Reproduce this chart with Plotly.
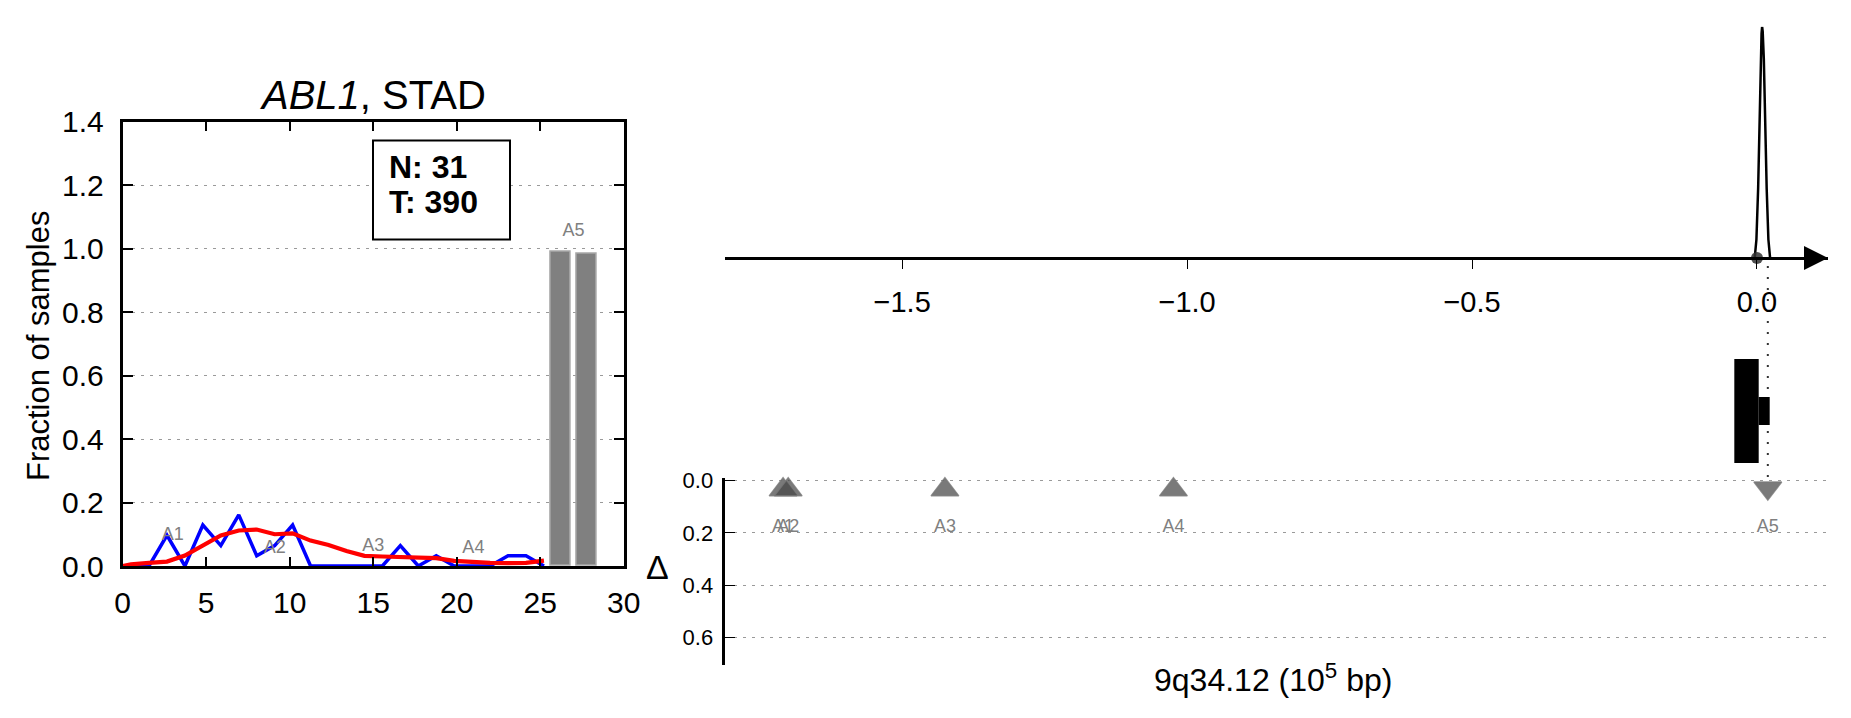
import plotly.graph_objects as go

W, H = 1851, 718
FONT = "Liberation Sans, Arial, Helvetica, sans-serif"

# ---------------- data: left panel ----------------
bin_x = [0.5, 1.575, 2.65, 3.725, 4.8, 5.875, 6.95, 8.025, 9.1, 10.175, 11.25, 12.325,
         13.4, 14.475, 15.55, 16.625, 17.7, 18.775, 19.85, 20.925, 22.0, 23.075, 24.15, 25.225]
normal_frac = [0.0, 0.0, 0.0968, 0.0, 0.129, 0.0645, 0.161, 0.0323, 0.0645, 0.129, 0.0, 0.0,
               0.0, 0.0, 0.0, 0.0645, 0.0, 0.0323, 0.0, 0.0, 0.0, 0.0323, 0.0323, 0.0]
tumor_x = [0.0, 0.5, 1.575, 2.65, 3.725, 4.8, 5.875, 6.95, 8.025, 9.1, 10.175, 11.25, 12.325,
           13.4, 14.475, 15.55, 16.625, 17.7, 18.775, 19.85, 20.925, 22.0, 23.075, 24.15, 25.225]
tumor_frac = [0.0, 0.005, 0.010, 0.014, 0.033, 0.066, 0.096, 0.112, 0.115, 0.100, 0.103, 0.080,
              0.066, 0.047, 0.032, 0.030, 0.028, 0.024, 0.025, 0.016, 0.012, 0.010, 0.009, 0.010, 0.017]
bar_x = [26.25, 27.77]
bar_vals = [0.99, 0.984]
left_labels = ["A1", "A2", "A3", "A4", "A5"]
left_label_x = [3.0, 9.1, 15.0, 21.0, 27.0]
left_label_y = [0.097, 0.055, 0.060, 0.055, 1.053]
box_lines = ["N: 31", "T: 390"]

# ---------------- data: right panels ----------------
peak_x = [-0.004, -0.001, 0.002, 0.004, 0.006, 0.008, 0.009, 0.010, 0.012, 0.014, 0.017, 0.020, 0.023]
peak_y = [0.0, 0.08, 0.30, 0.55, 0.80, 0.97, 1.0, 0.98, 0.86, 0.62, 0.30, 0.08, 0.0]
site_labels = ["A1", "A2", "A3", "A4", "A5"]
site_x = [-1.709, -1.700, -1.425, -1.024, 0.019]
site_delta = [0.035, 0.035, 0.035, 0.035, 0.028]
site_symbol = ["triangle-up", "triangle-up", "triangle-up", "triangle-up", "triangle-down"]
site_label_y = [0.18, 0.18, 0.18, 0.18, 0.18]
gene_cds = [-0.0398, 0.0030]
gene_utr = [0.0030, 0.0223]
upper_ticks = [-1.5, -1.0, -0.5, 0.0]
delta_ticks = [0.0, 0.2, 0.4, 0.6]
x_range = [-1.8116, 0.1246]


def px(p):
    return p / W


def py(p):
    return 1 - p / H


fig = go.Figure()

fig.add_trace(go.Bar(x=bar_x, y=bar_vals, width=1.2, xaxis="x", yaxis="y",
                     marker=dict(color="#808080", line=dict(color="#a8a8a8", width=1.5))))
fig.add_trace(go.Scatter(x=bin_x, y=normal_frac, mode="lines", xaxis="x", yaxis="y",
                         line=dict(color="#0000ff", width=3.5)))
fig.add_trace(go.Scatter(x=tumor_x, y=tumor_frac, mode="lines", xaxis="x", yaxis="y",
                         line=dict(color="#ff0000", width=4.2)))
fig.add_trace(go.Scatter(x=left_label_x, y=left_label_y, mode="text", text=left_labels,
                         xaxis="x", yaxis="y", cliponaxis=False,
                         textfont=dict(family=FONT, size=18, color="#808080")))

fig.add_trace(go.Scatter(x=peak_x, y=peak_y, mode="lines", xaxis="x2", yaxis="y2",
                         line=dict(color="black", width=2.5), cliponaxis=False))
fig.add_trace(go.Scatter(x=[0.0], y=[0.0], mode="markers", xaxis="x2", yaxis="y2",
                         cliponaxis=False,
                         marker=dict(size=12, color="rgba(50,50,50,0.85)")))
# arrow head at the end of the upper axis
fig.add_trace(go.Scatter(x=[x_range[1]], y=[0.0], mode="markers", xaxis="x2", yaxis="y2",
                         cliponaxis=False,
                         marker=dict(symbol="arrow-right", size=24, color="black",
                                     line=dict(width=0))))

fig.add_trace(go.Scatter(x=site_x, y=site_delta, mode="markers", xaxis="x3", yaxis="y3",
                         cliponaxis=False,
                         marker=dict(symbol=site_symbol, size=24, color="rgba(70,70,70,0.72)",
                                     line=dict(color="rgba(120,120,120,0.8)", width=1.5))))
fig.add_trace(go.Scatter(x=site_x, y=site_label_y, mode="text", text=site_labels,
                         xaxis="x3", yaxis="y3", cliponaxis=False,
                         textfont=dict(family=FONT, size=18, color="#808080")))

grid_dash = "3px,6px"
fig.update_layout(
    xaxis=dict(domain=[px(122.7), px(623.7)], range=[0, 30], tickvals=[0, 5, 10, 15, 20, 25, 30],
               ticks="inside", ticklen=9, tickwidth=1.5, tickcolor="black",
               showline=True, linewidth=3, linecolor="black", mirror="ticks",
               showgrid=False, zeroline=False, anchor="y", automargin=False,
               tickfont=dict(family=FONT, size=30, color="black"), ticklabelstandoff=8),
    yaxis=dict(domain=[py(566), py(121.7)], range=[0, 1.4], tickvals=[0, 0.2, 0.4, 0.6, 0.8, 1.0, 1.2, 1.4],
               tickformat=".1f", ticks="inside", ticklen=10, tickwidth=1.5, tickcolor="black",
               showline=True, linewidth=3, linecolor="black", mirror="ticks",
               showgrid=True, gridcolor="#9a9a9a", gridwidth=1, griddash=grid_dash,
               zeroline=False, anchor="x", automargin=False,
               tickfont=dict(family=FONT, size=30, color="black"), ticklabelstandoff=10),
    xaxis2=dict(domain=[px(724.6), px(1828)], range=x_range, tickvals=upper_ticks,
                tickformat=".1f", ticks="outside", ticklen=9, tickwidth=1, tickcolor="black",
                showline=True, linewidth=3, linecolor="black",
                showgrid=False, zeroline=False, anchor="free", position=py(258), automargin=False,
                tickfont=dict(family=FONT, size=29, color="black"), ticklabelstandoff=8),
    yaxis2=dict(domain=[py(258), py(26.7)], range=[0, 1], visible=False, anchor="x2",
                automargin=False),
    xaxis3=dict(domain=[px(724.6), px(1828)], range=x_range, visible=False, anchor="y3",
                automargin=False),
    yaxis3=dict(domain=[py(665), py(478)], range=[0.7048, -0.0103], tickvals=delta_ticks,
                tickformat=".1f", ticks="inside", ticklen=10, tickwidth=1, tickcolor="black",
                showline=True, linewidth=3, linecolor="black",
                showgrid=True, gridcolor="#9a9a9a", gridwidth=1, griddash=grid_dash,
                zeroline=False, anchor="x3", automargin=False,
                tickfont=dict(family=FONT, size=22, color="black"), ticklabelstandoff=4),
)

shapes = []
# dotted link from axis to A5 site (drawn first, below the gene)
shapes.append(dict(type="line", xref="x2", yref="paper", x0=site_x[4], x1=site_x[4],
                   y0=py(266), y1=py(480), layer="below",
                   line=dict(color="#333333", width=2, dash="2px,9px")))
# gene model
shapes.append(dict(type="rect", xref="x2", yref="paper", x0=gene_cds[0], x1=gene_cds[1],
                   y0=py(463), y1=py(359), fillcolor="black", line=dict(width=0)))
shapes.append(dict(type="rect", xref="x2", yref="paper", x0=gene_utr[0], x1=gene_utr[1],
                   y0=py(425), y1=py(397), fillcolor="black", line=dict(width=0)))
# N/T box
shapes.append(dict(type="rect", xref="paper", yref="paper", x0=px(373), x1=px(510),
                   y0=py(239.6), y1=py(140.5), line=dict(color="black", width=2),
                   fillcolor="white"))
fig.update_layout(shapes=shapes)

ann = []
ann.append(dict(text="<i>ABL1</i>, STAD", x=px(373), y=py(94.5), xref="paper", yref="paper",
                showarrow=False, font=dict(family=FONT, size=40, color="black"),
                xanchor="center", yanchor="middle"))
ann.append(dict(text="Fraction of samples", x=px(38), y=py(346), xref="paper", yref="paper",
                showarrow=False, textangle=-90, font=dict(family=FONT, size=31, color="black"),
                xanchor="center", yanchor="middle"))
for txt, yy in zip(box_lines, [166.5, 201.5]):
    ann.append(dict(text="<b>" + txt + "</b>", x=px(387), y=py(yy), xref="paper", yref="paper",
                    showarrow=False, font=dict(family=FONT, size=32, color="black"),
                    xanchor="left", yanchor="middle"))
ann.append(dict(text="Δ", x=px(657.5), y=py(567), xref="paper", yref="paper",
                showarrow=False, font=dict(family=FONT, size=34, color="black"),
                xanchor="center", yanchor="middle"))
ann.append(dict(text="9q34.12 (10<sup>5</sup> bp)", x=px(1273), y=py(678), xref="paper", yref="paper",
                showarrow=False, font=dict(family=FONT, size=32, color="black"),
                xanchor="center", yanchor="middle"))
fig.update_layout(annotations=ann)

fig.update_layout(width=W, height=H, margin=dict(l=0, r=0, t=0, b=0, autoexpand=False),
                  paper_bgcolor="white", plot_bgcolor="white", showlegend=False,
                  font=dict(family=FONT, color="black"), bargap=0)

fig.write_html("out.html", config={"displayModeBar": False},
               post_script="document.body.style.margin='0px';"
                           "document.documentElement.style.overflow='hidden';")
